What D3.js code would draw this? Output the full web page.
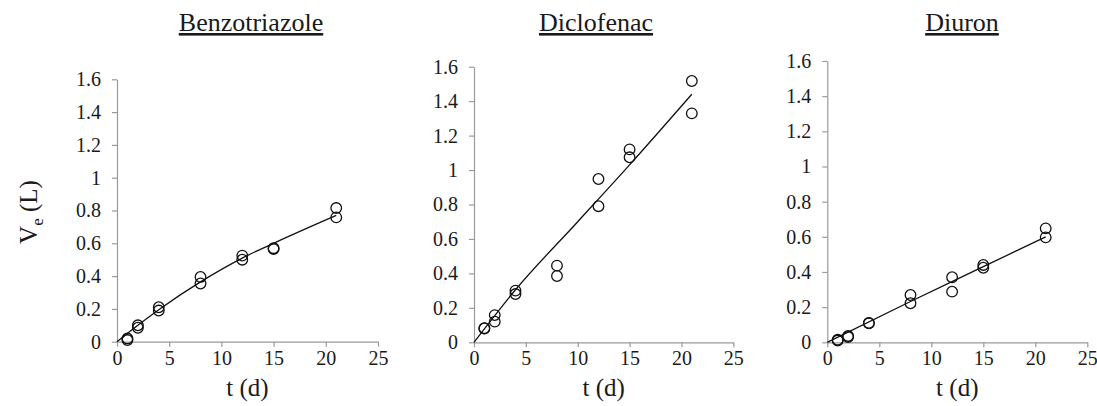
<!DOCTYPE html>
<html>
<head>
<meta charset="utf-8">
<script src="https://cdn.jsdelivr.net/npm/d3@7"></script>
</head>
<body style="margin:0;background:#fff">
<svg id="chart" width="1097" height="406"></svg>
<script>
const titles = ["Benzotriazole", "Diclofenac", "Diuron"];
const xTicks = [0, 5, 10, 15, 20, 25];
const yTicks = [0, 0.2, 0.4, 0.6, 0.8, 1, 1.2, 1.4, 1.6];

// measured points (two replicates per sampling day)
const benzoT = [1, 1, 2, 2, 4, 4, 8, 8, 12, 12, 15, 15, 21, 21];
const benzoV = [0.01, 0.02, 0.10, 0.085, 0.21, 0.19, 0.395, 0.355, 0.525, 0.50, 0.57, 0.565, 0.815, 0.758];
const dicloT = [1, 1, 2, 2, 4, 4, 8, 8, 12, 12, 15, 15, 21, 21];
const dicloV = [0.08, 0.082, 0.158, 0.12, 0.30, 0.28, 0.445, 0.385, 0.948, 0.79, 1.12, 1.074, 1.517, 1.329];
const diuronT = [1, 1, 2, 2, 4, 4, 8, 8, 12, 12, 15, 15, 21, 21];
const diuronV = [0.01, 0.015, 0.036, 0.03, 0.11, 0.108, 0.269, 0.222, 0.37, 0.288, 0.44, 0.424, 0.648, 0.597];

// fitted curves
const benzoFitT = [0, 2, 4, 8, 12, 15, 21];
const benzoFitV = [0, 0.10, 0.195, 0.365, 0.51, 0.60, 0.77];
const dicloFitT = [0, 4, 10, 15, 21];
const dicloFitV = [0, 0.305, 0.70, 1.03, 1.44];
const diuronFitT = [0, 8, 15, 21];
const diuronFitV = [0, 0.232, 0.43, 0.60];

const series = [
    { t: benzoT, v: benzoV, ft: benzoFitT, fv: benzoFitV },
    { t: dicloT, v: dicloV, ft: dicloFitT, fv: dicloFitV },
    { t: diuronT, v: diuronV, ft: diuronFitT, fv: diuronFitV }
];

// panel frames in pixels
const frames = [
    { x0: 117, x1: 378, yTop: 79.3, yBot: 341.7, titleX: 251 },
    { x0: 474, x1: 733.3, yTop: 66.7, yBot: 342.3, titleX: 596 },
    { x0: 827.3, x1: 1087.3, yTop: 61, yBot: 342.3, titleX: 962 }
];

const serif = "Liberation Serif";
const axisGray = "#9a9a9a";
const ink = "#1a1a1a";

const svg = d3.select("#chart");

function styleAxis(g) {
    g.attr("font-family", serif).attr("font-size", 20);
    g.selectAll(".domain").attr("stroke", axisGray).attr("stroke-width", 1.2);
    g.selectAll(".tick line").attr("stroke", axisGray).attr("stroke-width", 1.2);
    g.selectAll(".tick text").attr("fill", ink);
}

frames.forEach((f, i) => {
    const s = series[i];
    const x = d3.scaleLinear().domain([0, 25]).range([f.x0, f.x1]);
    const y = d3.scaleLinear().domain([0, 1.6]).range([f.yBot, f.yTop]);

    svg.append("g")
        .attr("transform", `translate(0,${f.yBot})`)
        .call(d3.axisBottom(x).tickValues(xTicks).tickSize(5).tickPadding(4).tickSizeOuter(0))
        .call(styleAxis);

    svg.append("g")
        .attr("transform", `translate(${f.x0},0)`)
        .call(d3.axisLeft(y).tickValues(yTicks).tickSize(5).tickPadding(11).tickSizeOuter(0)
            .tickFormat(d => String(+d.toFixed(1))))
        .call(styleAxis);

    const fit = s.ft.map((t, k) => [t, s.fv[k]]);
    svg.append("path")
        .datum(fit)
        .attr("fill", "none")
        .attr("stroke", "#111")
        .attr("stroke-width", 1.3)
        .attr("d", d3.line().x(d => x(d[0])).y(d => y(d[1])).curve(d3.curveMonotoneX));

    const pts = s.t.map((t, k) => [t, s.v[k]]);
    svg.append("g").selectAll("circle")
        .data(pts)
        .join("circle")
        .attr("cx", d => x(d[0]))
        .attr("cy", d => y(d[1]))
        .attr("r", 5.3)
        .attr("fill", "none")
        .attr("stroke", "#111")
        .attr("stroke-width", 1.3);

    svg.append("text")
        .attr("x", f.titleX)
        .attr("y", 31)
        .attr("text-anchor", "middle")
        .attr("font-family", serif)
        .attr("font-size", 26)
        .style("text-decoration", "underline")
        .attr("fill", ink)
        .text(titles[i]);

    svg.append("text")
        .attr("x", (f.x0 + f.x1) / 2)
        .attr("y", 396)
        .attr("text-anchor", "middle")
        .attr("font-family", serif)
        .attr("font-size", 25)
        .attr("fill", ink)
        .text("t (d)");
});

const yl = svg.append("text")
    .attr("transform", "translate(37,212) rotate(-90)")
    .attr("text-anchor", "middle")
    .attr("font-family", serif)
    .attr("font-size", 25)
    .attr("fill", ink);
yl.append("tspan").text("V");
yl.append("tspan").attr("dy", 6).attr("font-size", 17).text("e");
yl.append("tspan").attr("dy", -6).text(" (L)");
</script>
</body>
</html>
